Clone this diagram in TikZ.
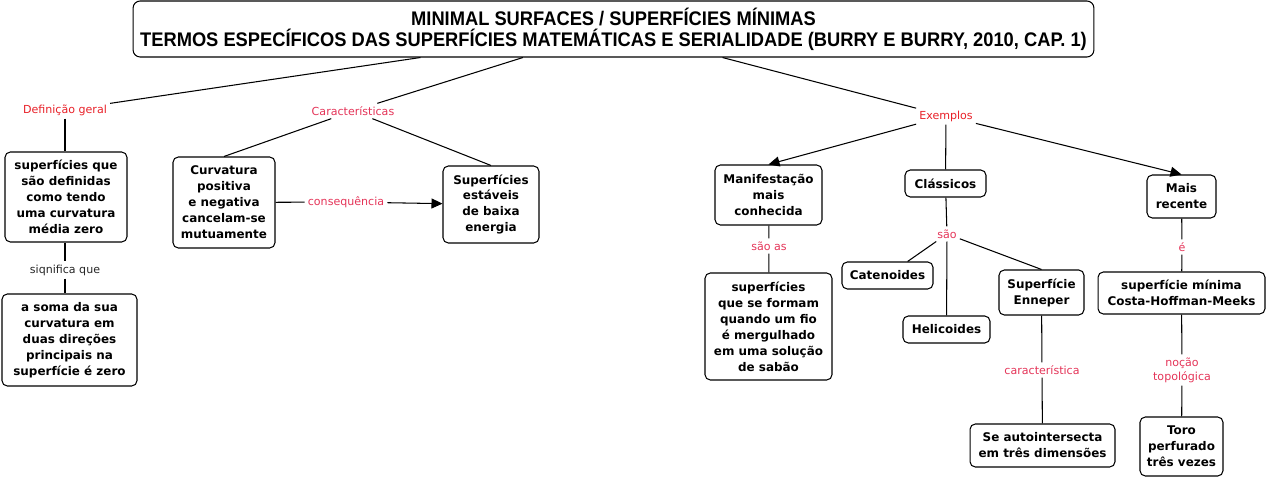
\documentclass[tikz,border=0pt]{standalone}
\usepackage{fontspec}
\usetikzlibrary{arrows.meta}
\newfontfamily\mapfont{DejaVu Sans}
\newfontfamily\titlefont[FakeStretch=0.93]{Liberation Sans}
\definecolor{linkred}{RGB}{232,32,40}
\definecolor{linkpink}{RGB}{228,52,88}

\begin{document}
\begin{tikzpicture}[x=0.02cm,y=-0.02cm,line width=0.6pt,
  concept/.style={draw,rounded corners=3pt,align=center,inner sep=1pt,
    font=\mapfont\bfseries\fontsize{6.8}{9.1}\selectfont},
  link/.style={align=center,inner sep=1.5pt,text=linkpink,
    font=\mapfont\fontsize{6.3}{8}\selectfont},
  arr/.style={-{Triangle[length=0.22cm,width=0.2cm]}}]
\useasboundingbox (0,0) rectangle (1267,479);

\node[draw,rounded corners=4pt,align=center,minimum width=19.22cm,minimum height=1.12cm,
  font=\titlefont\bfseries\fontsize{11.2}{12}\selectfont] (title) at (613.5,29)
  {MINIMAL SURFACES / SUPERFÍCIES MÍNIMAS\\TERMOS ESPECÍFICOS DAS SUPERFÍCIES MATEMÁTICAS E SERIALIDADE (BURRY E BURRY, 2010, CAP. 1)};

% ligacoes principais
\node[link,text=linkred] (lgeral) at (65,110) {Definição geral};
\node[link] (lcarac) at (353,111) {Características};
\node[link,text=linkred] (lexemp) at (946,116) {Exemplos};

% definicao
\node[concept,minimum width=2.44cm,minimum height=1.8cm] (media) at (66,197)
  {superfícies que\\são definidas\\como tendo\\uma curvatura\\média zero};
\node[link,text=black!85] (lsign) at (65,270) {siqnifica que};
\node[concept,minimum width=2.7cm,minimum height=1.84cm] (soma) at (69.5,340)
  {a soma da sua\\curvatura em\\duas direções\\principais na\\superfície é zero};

% caracteristicas
\node[concept,minimum width=2.04cm,minimum height=1.82cm] (curv) at (224,202.5)
  {Curvatura\\positiva\\e negativa\\cancelam-se\\mutuamente};
\node[link] (lconseq) at (346,202) {consequência};
\node[concept,minimum width=1.92cm,minimum height=1.54cm] (estav) at (491,204.5)
  {Superfícies\\estáveis\\de baixa\\energia};

% exemplos
\node[concept,minimum width=2.14cm,minimum height=1.2cm] (manif) at (768.5,195)
  {Manifestação\\mais\\conhecida};
\node[link] (lsaoas) at (769,246) {são as};
\node[concept,minimum width=2.54cm,minimum height=2.14cm] (sabao) at (768.5,326.5)
  {superfícies\\que se formam\\quando um fio\\é mergulhado\\em uma solução\\de sabão};
\node[concept,minimum width=1.62cm,minimum height=0.54cm] (classic) at (945.5,183.5) {Clássicos};
\node[link] (lsao) at (947,234) {são};
\node[concept,minimum width=1.82cm,minimum height=0.54cm] (caten) at (887.5,275.5) {Catenoides};
\node[concept,minimum width=1.74cm,minimum height=0.54cm] (helic) at (946.5,329.5) {Helicoides};
\node[concept,minimum width=1.7cm,minimum height=0.9cm] (ennep) at (1041.5,292.5) {Superfície\\Enneper};
\node[link] (lcaract) at (1042,370) {característica};
\node[concept,minimum width=2.9cm,minimum height=0.86cm] (autoint) at (1042.5,445.5)
  {Se autointersecta\\em três dimensões};
\node[concept,minimum width=1.38cm,minimum height=0.86cm] (recente) at (1181.5,196.5) {Mais\\recente};
\node[link] (le) at (1182,247) {é};
\node[concept,minimum width=3.34cm,minimum height=0.84cm] (costa) at (1181.5,293)
  {superfície mínima\\Costa-Hoffman-Meeks};
\node[link] (lnocao) at (1182,370) {noção\\topológica};
\node[concept,minimum width=1.66cm,minimum height=1.18cm] (toro) at (1181.5,446.5)
  {Toro\\perfurado\\três vezes};

\draw (title) -- (lgeral);
\draw (title) -- (lcarac);
\draw (title) -- (lexemp);
\draw (lgeral) -- (lgeral |- media.north);
\draw (lsign |- media.south) -- (lsign) -- (lsign |- soma.north);
\draw (lcarac) -- (curv.north);
\draw (lcarac) -- (estav.north);
\draw (curv) -- (lconseq);
\draw[arr] (lconseq) -- (estav);
\draw[arr] (lexemp) -- (manif.north);
\draw (lexemp) -- (classic);
\draw[arr] (lexemp) -- (recente.north);
\draw (manif) -- (lsaoas) -- (sabao);
\draw (classic) -- (lsao);
\draw (lsao) -- (caten);
\draw (lsao) -- (helic);
\draw (lsao) -- (ennep.north);
\draw (ennep) -- (lcaract) -- (autoint);
\draw (recente) -- (le) -- (costa);
\draw (costa) -- (lnocao) -- (toro);
\end{tikzpicture}
\end{document}
